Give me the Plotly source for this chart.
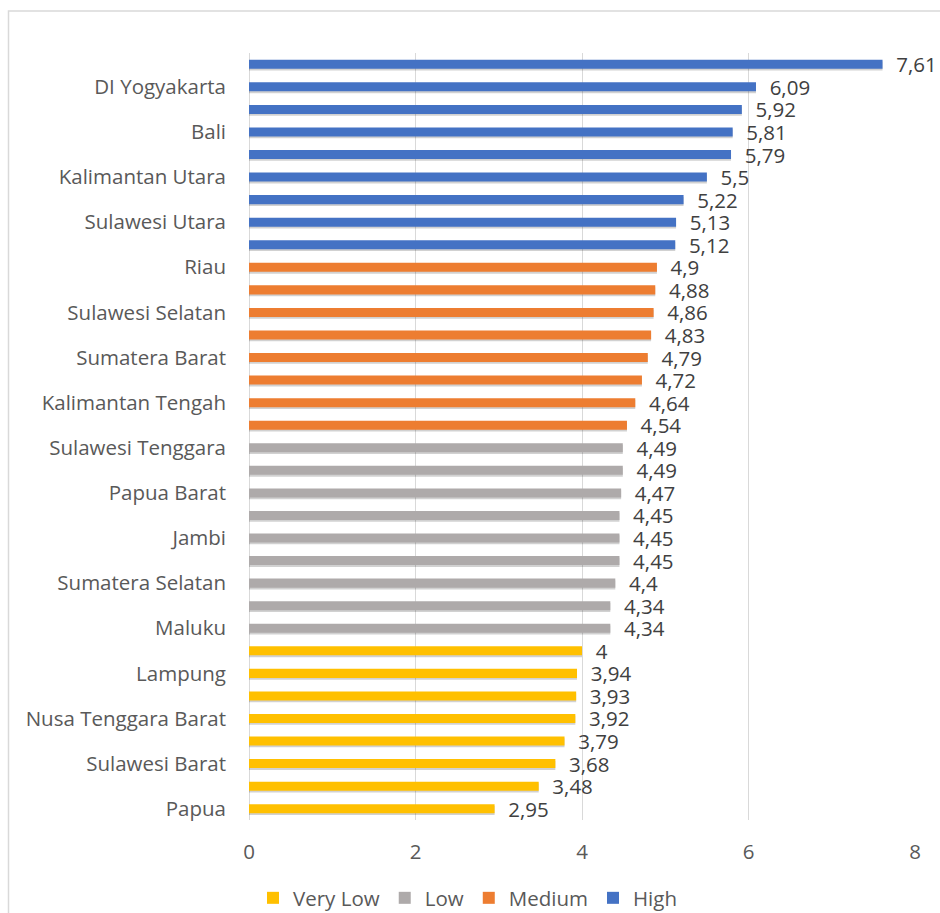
import plotly.graph_objects as go

# Data (top to bottom as shown in the chart)
provinces = [
    "DKI Jakarta", "DI Yogyakarta", "Kalimantan Timur", "Bali", "Kepulauan Riau",
    "Kalimantan Utara", "Jawa Barat", "Sulawesi Utara", "Kepulauan Bangka Belitung",
    "Riau", "Jawa Tengah", "Sulawesi Selatan", "Banten", "Sumatera Barat",
    "Jawa Timur", "Kalimantan Tengah", "Kalimantan Selatan",
    "Sulawesi Tenggara", "Aceh", "Papua Barat", "Sumatera Utara", "Jambi",
    "Bengkulu", "Sumatera Selatan", "Gorontalo", "Maluku",
    "Sulawesi Tengah", "Lampung", "Kalimantan Barat", "Nusa Tenggara Barat",
    "Maluku Utara", "Sulawesi Barat", "Nusa Tenggara Timur", "Papua",
]
values = [
    7.61, 6.09, 5.92, 5.81, 5.79, 5.5, 5.22, 5.13, 5.12,
    4.9, 4.88, 4.86, 4.83, 4.79, 4.72, 4.64, 4.54,
    4.49, 4.49, 4.47, 4.45, 4.45, 4.45, 4.4, 4.34, 4.34,
    4.0, 3.94, 3.93, 3.92, 3.79, 3.68, 3.48, 2.95,
]
classes = (["High"] * 9 + ["Medium"] * 8 + ["Low"] * 9 + ["Very Low"] * 8)
shown_labels = [
    "DI Yogyakarta", "Bali", "Kalimantan Utara", "Sulawesi Utara", "Riau",
    "Sulawesi Selatan", "Sumatera Barat", "Kalimantan Tengah", "Sulawesi Tenggara",
    "Papua Barat", "Jambi", "Sumatera Selatan", "Maluku", "Lampung",
    "Nusa Tenggara Barat", "Sulawesi Barat", "Papua",
]
legend_order = ["Very Low", "Low", "Medium", "High"]
class_colors = {"Very Low": "#FFC000", "Low": "#AEAAAA", "Medium": "#ED7D31", "High": "#4472C4"}

FONT = "Open Sans"
fig = go.Figure()

def fmt(v):
    return "\u00a0\u00a0" + f"{v:g}".replace(".", ",")

# soft shadows under the bars
for cls in legend_order:
    ys = [p for p, c in zip(provinces, classes) if c == cls]
    xs = [v for v, c in zip(values, classes) if c == cls]
    fig.add_trace(go.Bar(
        x=xs, y=ys, orientation="h", width=0.4, offset=-0.12,
        marker=dict(color="rgba(0,0,0,0.18)", line=dict(width=0)),
        showlegend=False, hoverinfo="skip",
    ))

for cls in legend_order:
    ys = [p for p, c in zip(provinces, classes) if c == cls]
    xs = [v for v, c in zip(values, classes) if c == cls]
    fig.add_trace(go.Bar(
        x=xs, y=ys, orientation="h", name=cls, width=0.4, offset=-0.2,
        marker=dict(color=class_colors[cls], line=dict(width=0)),
        text=[fmt(v) for v in xs], textposition="outside",
        textfont=dict(family=FONT, size=20.5, color="#404040"),
        cliponaxis=False, constraintext="none",
    ))

W, H = 940, 913
L, R, T, B = 249, 25, 53, 93
pw, ph = W - L - R, H - T - B

def px_x(x):
    return (x - L) / pw

def px_y(y):
    return (H - B - y) / ph

fig.update_layout(
    width=W, height=H,
    margin=dict(l=L, r=R, t=T, b=B, autoexpand=False),
    barmode="overlay",
    paper_bgcolor="white", plot_bgcolor="white",
    font=dict(family=FONT, size=20.5, color="#595959"),
    showlegend=True,
    legend=dict(
        orientation="h", traceorder="normal",
        x=px_x(253), xanchor="left", y=px_y(898), yanchor="middle",
        font=dict(family=FONT, size=20.5, color="#595959"),
        bgcolor="rgba(0,0,0,0)",
    ),
    xaxis=dict(
        range=[0, 8], dtick=2, tick0=0,
        showgrid=True, gridcolor="#D9D9D9", gridwidth=1,
        zeroline=True, zerolinecolor="#D9D9D9", zerolinewidth=1,
        showline=False, ticks="", ticklabelstandoff=17,
        tickfont=dict(family=FONT, size=20.5, color="#595959"),
    ),
    yaxis=dict(
        type="category", categoryorder="array", categoryarray=provinces,
        range=[len(provinces) - 0.5, -0.5],
        tickmode="array", tickvals=shown_labels, ticktext=shown_labels,
        showgrid=False, zeroline=False, showline=False, ticks="",
        ticklabelstandoff=22,
        tickfont=dict(family=FONT, size=20.5, color="#595959"),
    ),
    shapes=[dict(
        type="rect", xref="paper", yref="paper",
        x0=px_x(8.5), x1=px_x(950), y0=px_y(925), y1=px_y(11),
        line=dict(color="#D9D9D9", width=1.5), fillcolor="rgba(0,0,0,0)",
        layer="below",
    )],
)

fig.write_html("out.html")
